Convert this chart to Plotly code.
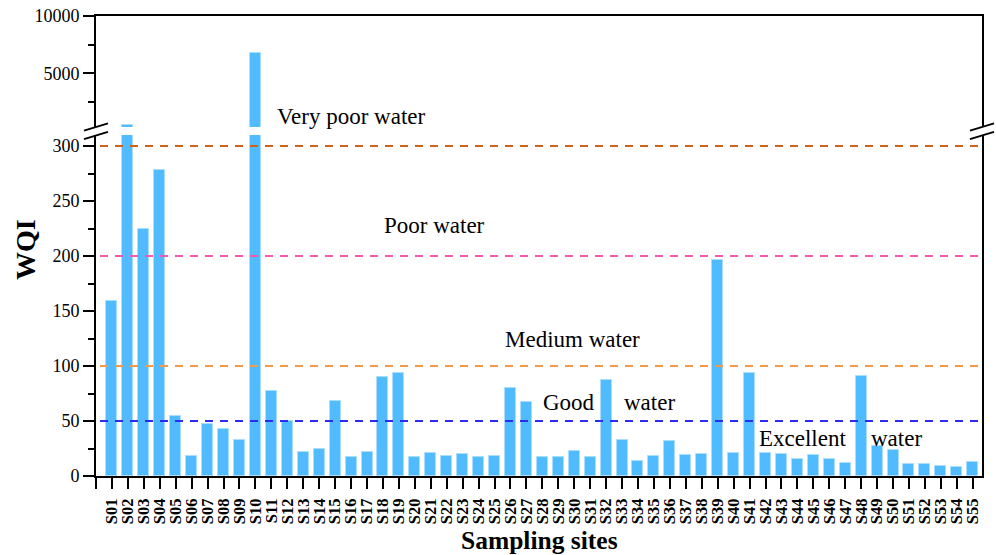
import plotly.graph_objects as go

# Water quality index per sampling site
sites = [f"S{i:02d}" for i in range(1, 56)]
wqi = [159, 490, 225, 278, 55, 18, 47, 43, 33, 6750,
       77, 50, 22, 25, 68.5, 17.5, 21.5, 90, 93.5, 17,
       21, 18, 20, 17.3, 18.2, 80, 67.6, 17, 17.3, 22.4,
       17.3, 87.4, 33, 14, 18.5, 31.8, 19.4, 19.7, 196, 21,
       93.4, 21, 20.3, 15.8, 19.4, 15.8, 11.5, 91, 27.6, 23.4,
       10.9, 10.6, 9.1, 8.5, 12.7]

# Class thresholds and their dashed-line colours
thresholds = [50, 100, 200, 300]
threshold_colors = ["#2B2BF2", "#F39A4A", "#F55AAE", "#CF621C"]

# Class names: (text, x position, y value, panel)
class_labels = [
    ("Very poor water", 11.23, 1250, "y2"),
    ("Poor water", 17.94, 228, "y"),
    ("Medium water", 25.53, 124, "y"),
    ("Good", 27.9, 67, "y"),
    ("water", 33.0, 67, "y"),
    ("Excellent", 41.47, 34, "y"),
    ("water", 48.5, 34, "y"),
]

BREAK_LOW, BREAK_HIGH = 310, 10000

x_pos = list(range(1, len(sites) + 1))
# Only values above the break reach the upper panel
wqi_upper = [v if v > BREAK_LOW else None for v in wqi]

W, H = 996, 555
ML, MR, MT, MB = 96, 14, 16, 79
PW, PH = W - ML - MR, H - MT - MB


def px_x(p):
    return (p - ML) / PW


def px_y(p):
    return (H - MB - p) / PH


low_dom = [0, px_y(135)]
up_dom = [px_y(127), 1]

FONT = "Liberation Serif, Times New Roman, serif"
bar_color = "#50BBFE"
edge = dict(color="#A9DEFF", width=1)

tick_y_font = dict(family=FONT, size=18, color="black")
tick_x_font = dict(family=FONT, size=16.5, color="black", weight="bold")

fig = go.Figure()
fig.add_trace(go.Bar(x=x_pos, y=wqi, xaxis="x", yaxis="y", width=0.69,
                     marker=dict(color=bar_color, line=edge),
                     showlegend=False, hoverinfo="x+y"))
fig.add_trace(go.Bar(x=x_pos, y=wqi_upper, xaxis="x2", yaxis="y2", width=0.69,
                     marker=dict(color=bar_color, line=edge),
                     showlegend=False, hoverinfo="x+y"))

line_style = dict(showline=True, linecolor="black", linewidth=2,
                  showgrid=False, zeroline=False, automargin=False)
tick_style = dict(ticks="outside", ticklen=11, tickwidth=2, tickcolor="black")

fig.update_layout(
    template="none",
    font=dict(family=FONT, size=17, color="black"),
    width=W, height=H,
    margin=dict(l=ML, r=MR, t=MT, b=MB, autoexpand=False),
    paper_bgcolor="white", plot_bgcolor="white",
    bargap=0,
    xaxis=dict(domain=[0, 1], anchor="y", range=[0, 55.58],
               tickmode="array",
               tickvals=list(range(0, 56)), ticktext=[""] + sites,
               tickangle=-90, tickfont=tick_x_font, ticklabelstandoff=3,
               **line_style, **tick_style),
    xaxis2=dict(domain=[0, 1], anchor="y2", matches="x", side="top",
                ticks="", showticklabels=False, **line_style),
    yaxis=dict(domain=low_dom, anchor="x", range=[0, BREAK_LOW],
               tickmode="linear", dtick=50, tick0=0, mirror=True,
               tickfont=tick_y_font, tickformat="d",
               minor=dict(dtick=25, tick0=0, ticklen=6, tickwidth=2,
                          tickcolor="black", ticks="outside", showgrid=False),
               **line_style, **tick_style),
    yaxis2=dict(domain=up_dom, anchor="x2", range=[BREAK_LOW, BREAK_HIGH],
                tickmode="linear", dtick=5000, tick0=0, mirror=True,
                tickfont=tick_y_font, tickformat="d",
                minor=dict(dtick=2500, tick0=0, ticklen=6, tickwidth=2,
                           tickcolor="black", ticks="outside", showgrid=False),
                **line_style, **tick_style),
)

# Dashed class boundaries
for lvl, col in zip(thresholds, threshold_colors):
    fig.add_shape(type="line", xref="paper", yref="y", x0=px_x(100), x1=1,
                  y0=lvl, y1=lvl, line=dict(color=col, width=2, dash="8px,7px"),
                  layer="above")

# Axis break marks on both sides
for cx in (96, 982):
    for cy in (127, 135.5):
        fig.add_shape(type="line", xref="paper", yref="paper",
                      x0=px_x(cx - 12), y0=px_y(cy + 3.6),
                      x1=px_x(cx + 12), y1=px_y(cy - 3.6),
                      line=dict(color="black", width=2))

for text, xv, yv, yr in class_labels:
    fig.add_annotation(text=text, x=xv, y=yv, xref="x", yref=yr,
                       xanchor="left", yanchor="middle", showarrow=False,
                       font=dict(family=FONT, size=23, color="black"))

# Axis titles
fig.add_annotation(text="WQI", x=px_x(26), y=px_y(250), xref="paper", yref="paper",
                   textangle=-90, showarrow=False, xanchor="center", yanchor="middle",
                   font=dict(family=FONT, size=28, color="black", weight="bold"))
fig.add_annotation(text="Sampling sites", x=px_x(539), y=px_y(540),
                   xref="paper", yref="paper", showarrow=False,
                   xanchor="center", yanchor="middle",
                   font=dict(family=FONT, size=25.5, color="black", weight="bold"))

fig.write_html("out.html")
